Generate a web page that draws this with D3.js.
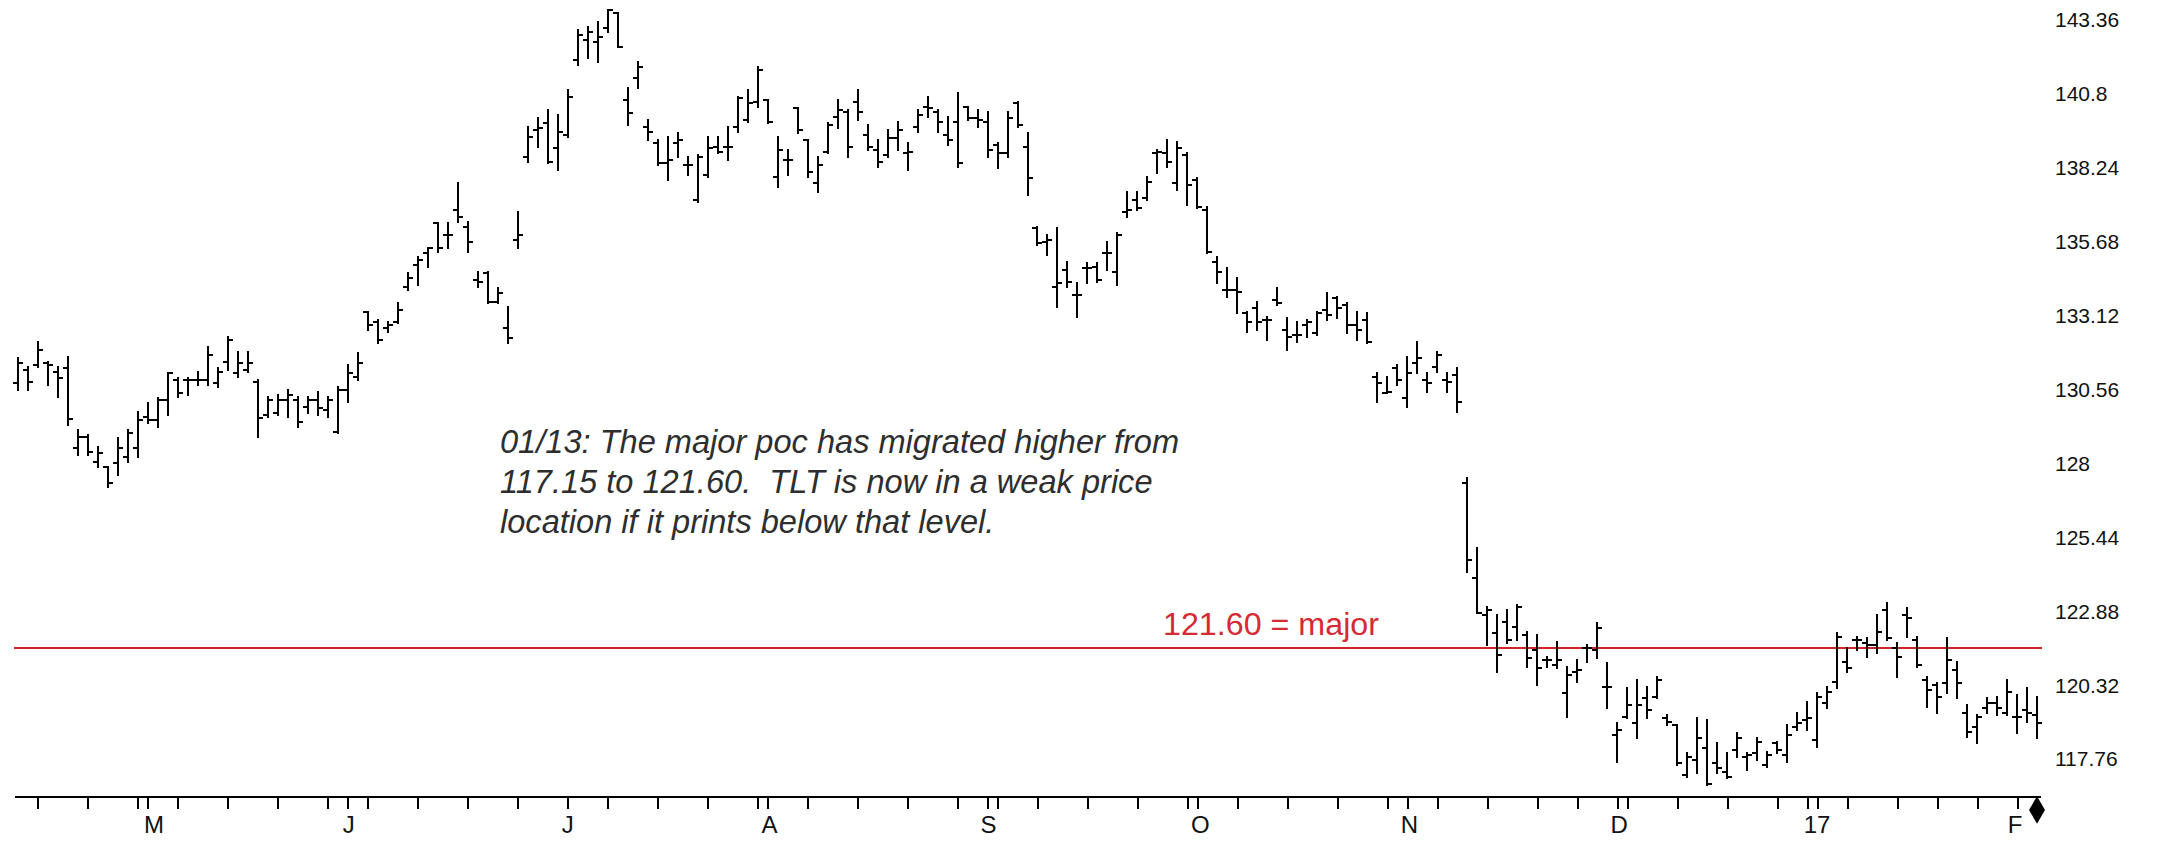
<!DOCTYPE html>
<meta charset="utf-8">
<style>
body { margin: 0; background: #fff; }
svg { display: block; font-family: "Liberation Sans", Arial, sans-serif; }
.bar line { stroke: #000; stroke-width: 2; shape-rendering: crispEdges; }
.yaxis text { font-size: 21px; fill: #111; }
.xaxis line, .xaxis path { stroke: #000; stroke-width: 2; shape-rendering: crispEdges; }
.xaxis text { font-size: 24px; fill: #111; }
.note { font-size: 32.6px; font-style: italic; fill: #2e2e2e; white-space: pre; }
</style>
<body>
<script src="https://cdn.jsdelivr.net/npm/d3@7"></script>
<script>

// daily bars (one entry per trading day)
var opens = [
  130.76, 131.21, 131.38, 131.45, 131.14, 131.28, 128.51, 128.89, 128.03, 127.85,
  127.99, 128.20, 128.51, 129.58, 129.48, 130.17, 130.86, 130.86, 130.86, 130.86,
  130.76, 131.48, 131.10, 131.21, 130.79, 129.65, 129.72, 130.17, 130.17, 129.93,
  130.17, 129.82, 129.06, 130.52, 130.97, 133.22, 132.88, 132.67, 132.88, 134.09,
  134.85, 135.27, 136.31, 135.89, 136.76, 136.17, 134.33, 134.57, 133.57, 132.67,
  135.72, 138.59, 139.53, 139.77, 138.90, 139.35, 141.95, 142.64, 142.58, 143.06,
  143.58, 140.57, 141.33, 139.63, 139.08, 138.38, 139.08, 138.31, 137.10, 137.97,
  138.94, 138.94, 139.63, 139.87, 140.50, 140.57, 137.90, 138.49, 140.29, 139.18,
  137.69, 138.77, 139.98, 140.15, 140.50, 139.35, 138.83, 138.66, 139.25, 138.73,
  139.63, 140.32, 140.15, 139.35, 139.80, 140.32, 139.94, 139.80, 139.01, 138.73,
  140.46, 138.94, 136.13, 135.65, 134.09, 134.68, 133.81, 134.75, 134.78, 135.27,
  134.61, 136.69, 137.10, 137.17, 138.73, 138.73, 137.69, 138.66, 137.79, 136.76,
  134.95, 133.98, 133.98, 133.19, 133.36, 132.94, 133.64, 132.60, 132.43, 132.77,
  132.50, 133.29, 133.71, 133.46, 132.77, 132.94, 130.97, 130.41, 131.28, 130.24,
  131.45, 130.86, 131.31, 130.86, 131.04, 127.30, 124.01, 122.73, 122.10, 122.48,
  122.31, 122.03, 121.51, 121.17, 120.99, 120.02, 120.75, 121.58, 121.51, 120.23,
  118.57, 119.19, 118.99, 119.85, 119.89, 119.16, 118.92, 117.18, 117.70, 118.12,
  117.60, 117.29, 118.05, 117.81, 117.95, 117.53, 118.29, 117.88, 118.85, 119.09,
  118.40, 119.68, 120.40, 121.10, 121.86, 121.76, 121.69, 122.90, 121.58, 122.73,
  121.86, 120.47, 120.30, 120.37, 120.82, 119.33, 118.85, 119.50, 119.68, 119.33,
  119.19, 119.44, 119.26
];
var highs = [
  131.62, 131.31, 132.18, 131.48, 131.31, 131.66, 129.13, 128.96, 128.55, 127.85,
  128.86, 129.13, 129.76, 130.07, 130.24, 131.10, 130.93, 130.93, 131.14, 132.00,
  131.28, 132.35, 131.83, 131.83, 130.86, 130.27, 130.34, 130.52, 130.27, 130.27,
  130.45, 130.27, 130.62, 131.38, 131.80, 133.22, 132.94, 132.88, 133.53, 134.57,
  135.13, 135.44, 136.31, 136.31, 137.69, 136.34, 134.61, 134.61, 134.05, 133.40,
  136.69, 139.63, 139.94, 140.22, 140.05, 140.91, 142.99, 143.09, 143.27, 143.68,
  143.58, 140.98, 141.88, 139.87, 139.18, 139.28, 139.42, 138.59, 138.66, 139.28,
  139.28, 139.63, 140.67, 140.91, 141.71, 140.57, 139.28, 138.83, 140.29, 139.18,
  138.59, 139.77, 140.57, 140.22, 140.91, 139.70, 139.18, 139.53, 139.80, 139.08,
  140.22, 140.67, 140.22, 139.98, 140.81, 140.32, 140.22, 140.15, 139.08, 140.15,
  140.50, 139.42, 136.17, 135.89, 136.13, 134.95, 134.23, 134.92, 134.92, 135.65,
  135.96, 137.38, 137.38, 137.90, 138.83, 139.18, 139.11, 138.73, 137.86, 136.86,
  135.13, 134.75, 134.40, 133.22, 133.57, 133.05, 134.05, 133.01, 132.88, 132.94,
  133.22, 133.88, 133.74, 133.53, 133.22, 133.19, 131.10, 130.97, 131.38, 131.66,
  132.18, 131.10, 131.83, 131.10, 131.28, 127.47, 125.05, 123.00, 122.73, 122.90,
  123.07, 122.14, 122.03, 121.27, 121.79, 120.93, 121.17, 121.69, 122.45, 121.06,
  118.99, 120.20, 120.47, 120.23, 120.58, 119.26, 118.92, 117.95, 119.16, 119.09,
  118.29, 117.95, 118.64, 117.95, 118.47, 117.98, 118.33, 118.92, 119.33, 119.71,
  120.02, 120.23, 122.10, 121.58, 121.96, 121.93, 122.73, 123.14, 121.76, 122.97,
  121.96, 120.58, 120.37, 121.93, 121.10, 119.61, 119.26, 119.85, 119.89, 120.47,
  119.96, 120.20, 119.89
];
var lows = [
  130.52, 130.52, 131.31, 130.69, 130.27, 129.30, 128.27, 128.27, 127.85, 127.16,
  127.58, 128.03, 128.20, 129.37, 129.23, 129.65, 130.27, 130.34, 130.69, 130.69,
  130.62, 131.21, 130.97, 131.14, 128.89, 129.58, 129.65, 129.58, 129.23, 129.72,
  129.65, 129.58, 129.03, 130.10, 130.86, 132.60, 132.15, 132.53, 132.84, 133.98,
  134.16, 134.78, 135.30, 135.44, 136.34, 135.30, 134.09, 133.53, 133.53, 132.15,
  135.44, 138.42, 138.94, 138.38, 138.14, 139.28, 141.78, 142.02, 141.88, 142.92,
  142.40, 139.70, 140.98, 139.18, 138.31, 137.80, 138.59, 137.97, 137.03, 137.90,
  138.73, 138.49, 139.46, 139.80, 140.32, 139.77, 137.55, 137.97, 139.42, 137.90,
  137.38, 138.73, 139.60, 138.59, 139.87, 138.83, 138.25, 138.59, 138.83, 138.14,
  139.46, 139.98, 139.46, 139.01, 138.25, 139.87, 139.63, 138.59, 138.21, 138.59,
  139.63, 137.27, 135.54, 135.20, 133.40, 134.09, 133.05, 134.23, 134.26, 134.68,
  134.16, 136.51, 136.76, 137.10, 138.04, 138.25, 137.45, 136.93, 136.83, 135.27,
  134.23, 133.74, 133.19, 132.53, 132.60, 132.25, 133.46, 131.91, 132.18, 132.36,
  132.43, 132.94, 133.01, 132.50, 132.25, 132.15, 130.10, 130.41, 130.69, 129.93,
  131.10, 130.45, 131.14, 130.45, 129.76, 124.22, 122.80, 121.69, 120.75, 121.76,
  121.86, 120.93, 120.30, 120.93, 120.89, 119.19, 120.41, 121.10, 121.24, 119.50,
  117.63, 119.16, 118.47, 119.16, 119.85, 118.92, 117.53, 117.11, 117.25, 116.84,
  117.25, 117.08, 117.81, 117.36, 117.70, 117.46, 117.95, 117.63, 118.74, 118.74,
  118.16, 119.50, 120.20, 120.75, 121.51, 121.27, 121.41, 121.86, 120.58, 121.96,
  120.93, 119.54, 119.33, 120.02, 119.85, 118.50, 118.29, 119.33, 119.26, 119.26,
  118.64, 119.02, 118.47
];
var closes = [
  131.45, 130.79, 131.90, 131.38, 130.93, 129.51, 128.89, 128.37, 128.34, 127.30,
  128.51, 129.03, 129.48, 129.48, 130.17, 131.10, 130.41, 130.86, 130.86, 131.73,
  131.14, 132.25, 131.45, 131.45, 129.55, 130.17, 130.17, 130.34, 129.41, 130.17,
  129.89, 130.17, 130.52, 131.10, 131.45, 132.77, 132.25, 132.77, 133.29, 134.40,
  135.02, 135.44, 135.44, 135.89, 136.51, 135.65, 134.26, 133.57, 133.88, 132.32,
  135.89, 139.28, 139.60, 138.42, 139.46, 140.67, 142.82, 142.92, 142.75, 143.68,
  142.40, 140.12, 141.71, 139.46, 138.38, 138.49, 139.18, 138.31, 138.59, 138.90,
  138.77, 138.94, 140.64, 140.46, 141.61, 139.80, 138.83, 138.49, 139.53, 138.07,
  138.31, 139.70, 140.22, 138.94, 140.15, 138.94, 138.42, 139.25, 139.53, 138.77,
  140.05, 140.29, 139.80, 139.18, 138.38, 139.94, 139.87, 138.83, 138.73, 139.94,
  139.70, 137.86, 135.61, 135.72, 134.23, 134.26, 133.81, 134.75, 134.33, 135.27,
  135.89, 136.76, 136.83, 137.73, 138.77, 138.42, 138.90, 137.62, 136.86, 135.30,
  134.61, 133.98, 133.91, 132.88, 132.88, 132.94, 133.53, 132.36, 132.43, 132.88,
  133.19, 133.12, 133.36, 132.77, 132.60, 132.18, 130.76, 130.45, 130.86, 131.10,
  131.62, 130.76, 131.73, 130.79, 130.10, 124.63, 122.80, 122.90, 121.34, 121.86,
  123.00, 121.24, 120.89, 121.17, 121.17, 120.65, 120.82, 121.58, 122.28, 120.23,
  118.74, 119.61, 119.61, 119.44, 120.47, 119.02, 117.60, 117.81, 118.47, 116.87,
  117.43, 117.11, 118.47, 117.88, 118.33, 117.88, 118.05, 118.57, 118.99, 119.16,
  119.89, 120.06, 121.96, 120.89, 121.86, 121.69, 122.14, 121.93, 121.27, 122.62,
  120.99, 120.13, 119.89, 121.17, 120.37, 118.67, 119.19, 119.68, 119.50, 120.06,
  119.19, 119.33, 118.99
];

// price scale labels on the right
var yTicks = [143.36, 140.8, 138.24, 135.68, 133.12, 130.56, 128, 125.44, 122.88, 120.32, 117.76];

// bar positions of the small axis ticks, and month labels
var xTickIdx = [2, 7, 12, 13, 16, 21, 26, 31, 33, 35, 40, 45, 50, 55, 59, 64, 69, 74, 75, 79,
  84, 89, 94, 97, 98, 102, 107, 112, 117, 118, 122, 127, 132, 137, 139, 142, 147, 152, 156,
  160, 161, 166, 171, 176, 179, 180, 183, 188, 192, 196, 200];
var monthLabels = ["M", "J", "J", "A", "S", "O", "N", "D", "17", "F"];
var monthIdx = [13.6, 33.1, 55.0, 75.2, 97.1, 118.3, 139.2, 160.2, 180.0, 199.8];

var pocLevel = 121.60;
var pocLabel = "121.60 = major";
var noteLines = [
  "01/13: The major poc has migrated higher from",
  "117.15 to 121.60.  TLT is now in a weak price",
  "location if it prints below that level."
];

var width = 2166,
    height = 843,
    axisY = 797;

var svg = d3.select("body").append("svg")
    .attr("width", width)
    .attr("height", height);

var x = d3.scaleLinear()
    .domain([0, opens.length - 1])
    .range([18, 2037]);

var y = d3.scaleLinear()
    .domain([117.76, 143.36])
    .range([758.6, 19.3]);

// red poc line + label
svg.append("line")
    .attr("x1", 14).attr("x2", 2042)
    .attr("y1", Math.round(y(pocLevel))).attr("y2", Math.round(y(pocLevel)))
    .style("stroke", "#d2232a")
    .style("stroke-width", 2);

svg.append("text")
    .attr("x", 1163)
    .attr("y", Math.round(y(pocLevel)) - 13)
    .attr("textLength", 216)
    .attr("lengthAdjust", "spacingAndGlyphs")
    .style("font-size", "31px")
    .style("fill", "#d42a33")
    .text(pocLabel);

// comment box text
svg.append("g")
    .selectAll("text")
    .data(noteLines)
  .enter().append("text")
    .attr("class", "note")
    .attr("x", 500)
    .attr("y", function(d, i) { return 453 + i * 40; })
    .text(function(d) { return d; });

// OHLC bars
var bar = svg.append("g")
    .attr("class", "bar")
  .selectAll("g")
    .data(d3.range(opens.length))
  .enter().append("g");

bar.append("line")
    .attr("x1", function(i) { return Math.round(x(i)); })
    .attr("x2", function(i) { return Math.round(x(i)); })
    .attr("y1", function(i) { return Math.round(y(highs[i])) - 1; })
    .attr("y2", function(i) { return Math.round(y(lows[i])) + 1; });

bar.append("line")
    .attr("x1", function(i) { return Math.round(x(i)) - 5; })
    .attr("x2", function(i) { return Math.round(x(i)); })
    .attr("y1", function(i) { return Math.round(y(opens[i])); })
    .attr("y2", function(i) { return Math.round(y(opens[i])); });

bar.append("line")
    .attr("x1", function(i) { return Math.round(x(i)); })
    .attr("x2", function(i) { return Math.round(x(i)) + 5; })
    .attr("y1", function(i) { return Math.round(y(closes[i])); })
    .attr("y2", function(i) { return Math.round(y(closes[i])); });

// right price axis, labels only
var yAxis = svg.append("g")
    .attr("class", "yaxis")
    .attr("transform", "translate(2055,0)")
    .call(d3.axisRight(y).tickValues(yTicks).tickSize(0).tickPadding(0)
      .tickFormat(function(d) { return String(d); }));
yAxis.select(".domain").remove();
yAxis.selectAll("text").attr("dy", "0.35em");

// bottom time axis
var xAxis = svg.append("g")
    .attr("class", "xaxis")
    .attr("transform", "translate(0," + axisY + ")")
    .call(d3.axisBottom(x).tickValues(xTickIdx).tickSize(12).tickSizeOuter(0).tickFormat(""));
xAxis.select(".domain").remove();

xAxis.append("line")
    .attr("x1", 15).attr("x2", 2041)
    .attr("y1", 0).attr("y2", 0);

xAxis.selectAll(".month")
    .data(monthLabels)
  .enter().append("text")
    .attr("class", "month")
    .attr("x", function(d, i) { return x(monthIdx[i]); })
    .attr("y", 36)
    .attr("text-anchor", "middle")
    .text(function(d) { return d; });

// last bar marker
svg.append("path")
    .attr("d", d3.symbol().type(d3.symbolDiamond).size(220)())
    .attr("transform", "translate(" + Math.round(x(opens.length - 1)) + "," + (axisY + 13) + ")")
    .style("fill", "#000");

</script>
</body>
